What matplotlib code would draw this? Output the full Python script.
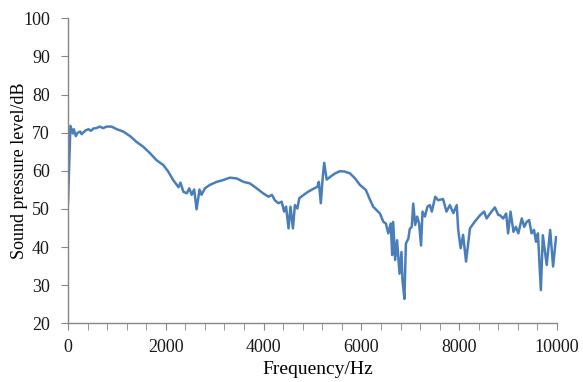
import numpy as np
import matplotlib.pyplot as plt
from matplotlib.ticker import MultipleLocator

# Frequency (Hz) and sound pressure level (dB)
freq = [0, 50, 100, 120, 160, 200, 250, 280, 310, 360, 420, 470, 520, 580, 650,
        720, 790, 890, 1000, 1130,
        1270, 1400, 1540, 1680, 1810, 1950, 2050, 2150, 2260, 2300, 2360, 2430,
        2480, 2530, 2580, 2630, 2690, 2730, 2800, 2900, 3040, 3180, 3310, 3450,
        3590, 3720, 3860, 3990, 4100, 4170, 4230, 4300, 4370, 4420, 4460, 4510,
        4550, 4600, 4640, 4690, 4730, 4810, 4910, 5020, 5100, 5130, 5170, 5210,
        5240, 5290, 5360, 5460, 5560, 5660, 5770, 5870, 5970, 6090, 6180, 6240,
        6310, 6380, 6450, 6500, 6550, 6600, 6630, 6650, 6690, 6730, 6780, 6820,
        6840, 6880, 6910, 6960, 6990, 7030, 7060, 7100, 7140, 7180, 7220, 7250,
        7300, 7350, 7400, 7440, 7510, 7570, 7670, 7740, 7810, 7880, 7950, 7980,
        8030, 8080, 8140, 8220, 8320, 8430, 8510, 8560, 8660, 8730, 8800, 8830,
        8900, 8960, 9000, 9050, 9110, 9160, 9210, 9280, 9330, 9380, 9430, 9480,
        9530, 9570, 9610, 9670, 9710, 9790, 9860, 9920, 9980]
spl = [51.5, 71.8, 69.8, 70.9, 69.1, 70.0, 70.3, 69.6, 70.0, 70.6, 70.9, 70.5,
       71.1, 71.2, 71.6, 71.2, 71.6, 71.6,
       70.9, 70.3, 69.1, 67.6, 66.3, 64.6, 62.8, 61.5, 59.8, 57.6, 55.7, 56.9,
       54.5, 54.1, 55.4, 53.7, 55.1, 49.9, 55.1, 53.7, 55.4, 56.3, 57.1, 57.6,
       58.2, 58.0, 57.1, 56.7, 55.4, 54.1, 53.2, 53.7, 52.3, 51.5, 51.9, 49.3,
       50.6, 44.9, 50.6, 44.9, 51.0, 50.1, 52.8, 53.6, 54.5, 55.3, 55.8, 57.1,
       51.5, 58.4, 62.1, 57.7, 58.4, 59.3, 59.9, 59.8, 59.3, 58.0, 56.3, 55.0,
       52.3, 50.6, 49.7, 48.8, 46.6, 46.2, 43.6, 46.2, 37.9, 46.6, 36.6, 41.8,
       33.0, 38.7, 31.3, 26.4, 40.9, 42.2, 44.8, 45.3, 51.4, 45.8, 48.0, 46.2,
       40.4, 49.3, 48.0, 50.6, 51.0, 49.3, 53.2, 52.3, 52.6, 49.3, 51.0, 48.9,
       51.0, 44.5, 39.7, 43.2, 36.2, 44.9, 46.7, 48.4, 49.3, 47.5, 49.3, 50.4,
       48.4, 48.4, 47.5, 48.8, 43.6, 49.3, 44.0, 45.3, 43.6, 47.5, 45.3, 46.6,
       47.1, 43.6, 44.5, 41.4, 43.6, 28.7, 43.1, 35.3, 44.5, 34.9, 42.6]

plt.rcParams['font.family'] = ['Liberation Serif', 'DejaVu Serif']

fig = plt.figure(figsize=(5.83, 3.82), dpi=100)
ax = fig.add_axes([0.1166, 0.1536, 0.8388, 0.7985])

ax.plot(freq, spl, color='#4a7ebb', linewidth=1.8)

ax.set_xlim(0, 10000)
ax.set_ylim(20, 100)
ax.xaxis.set_major_locator(MultipleLocator(2000))
ax.xaxis.set_minor_locator(MultipleLocator(400))
ax.yaxis.set_major_locator(MultipleLocator(10))

for s in ['top', 'right']:
    ax.spines[s].set_visible(False)
for s in ['left', 'bottom']:
    ax.spines[s].set_color('#868686')
    ax.spines[s].set_linewidth(1.0)

ax.tick_params(axis='both', which='both', direction='out', color='#868686',
               labelsize=13, labelcolor='#1a1a1a')
ax.tick_params(axis='both', which='major', length=5)
ax.tick_params(axis='x', which='minor', length=5)
ax.tick_params(axis='x', pad=6)
ax.tick_params(axis='y', pad=8)

ax.set_xlabel('Frequency/Hz', fontsize=14)
ax.set_ylabel('Sound pressure level/dB', fontsize=13)
ax.xaxis.set_label_coords(0.51, -0.122)
ax.yaxis.set_label_coords(-0.082, 0.5)

fig.savefig('out.png', dpi=100)
